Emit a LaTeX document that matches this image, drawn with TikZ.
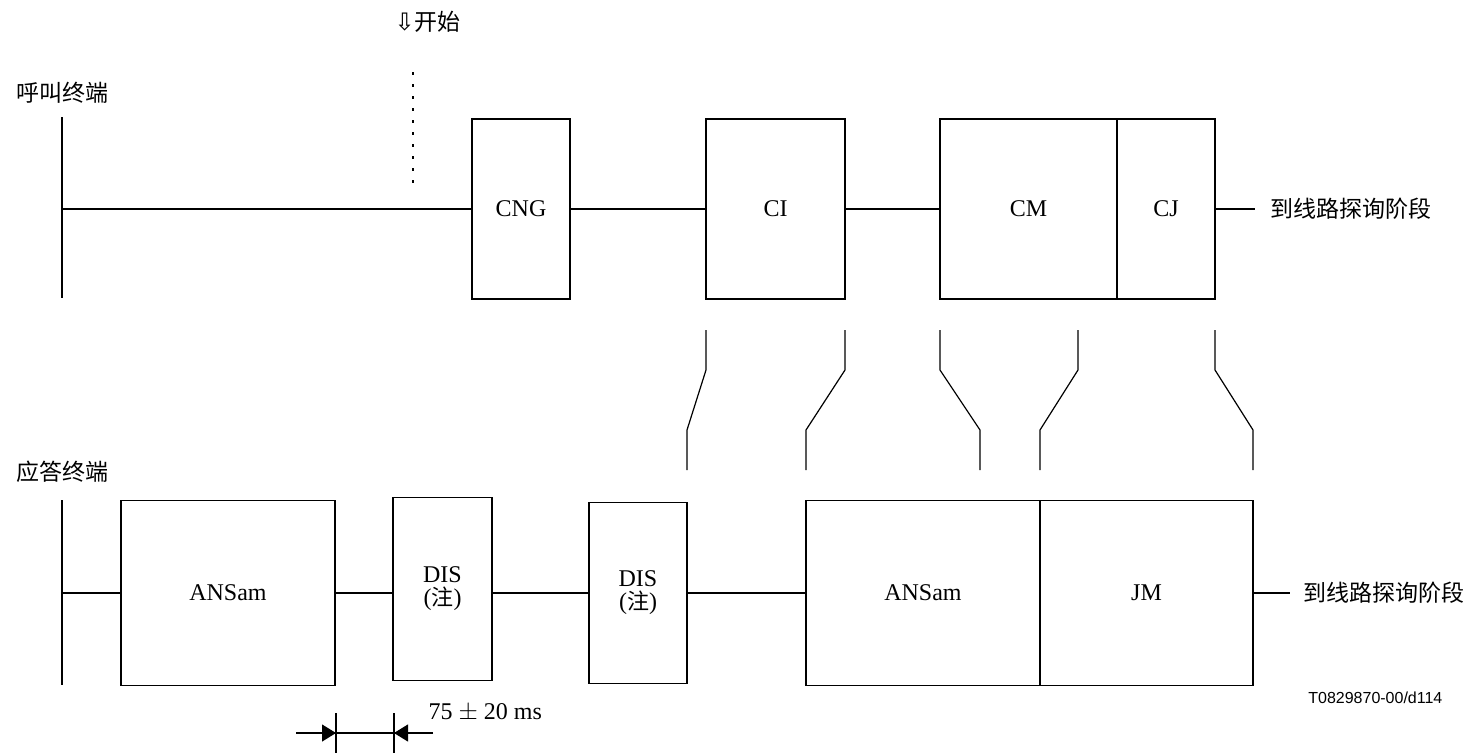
\documentclass[tikz,border=0pt]{standalone}
\usepackage{fontspec}
\setmainfont{Liberation Serif}
\newfontfamily\cjk{Noto Sans CJK SC}
\newfontfamily\symb{DejaVu Sans}
\newfontfamily\figfont{Liberation Sans}
\usetikzlibrary{arrows.meta}

\begin{document}
\begin{tikzpicture}[
  x=1pt, y=-1pt, line width=1.2pt,
  every node/.style={inner sep=0pt, font=\fontsize{24}{28}\selectfont},
  sig/.style 2 args={draw, rectangle, minimum width=#1, minimum height=#2},
  zh/.style={font=\fontsize{23}{26}\selectfont\cjk},
  dimarrow/.style={-{Triangle[length=14pt,width=17pt]}}
]
  \useasboundingbox (0,0) rectangle (1476,755);

  % calling terminal
  \node[zh, anchor=west] (caller) at (16,93) {呼叫终端};
  \coordinate (c1) at (62,117);
  \coordinate (c2) at (62,298);
  \coordinate (c3) at (62,209);
  \draw (c1) -- (c2);
  \node[anchor=west] (start) at (394,22) {{\symb\fontsize{24}{26}\selectfont ⇩}{\cjk\fontsize{23}{26}\selectfont 开始}};
  \coordinate (s1) at (413,72);
  \coordinate (s2) at (413,187);
  \draw[line width=2pt, dash pattern=on 3pt off 9pt] (s1) -- (s2);

  \node[sig={98pt}{180pt}] (cng) at (521,209) {CNG};
  \node[sig={139pt}{180pt}] (ci) at (775.5,209) {CI};
  \node[sig={177pt}{180pt}] (cm) at (1028.5,209) {CM};
  \node[sig={98pt}{180pt}] (cj) at (1166,209) {CJ};
  \node[zh, anchor=west] (callnext) at (1270,209) {到线路探询阶段};
  \coordinate (callend) at (1255,209);

  \draw (c3) -- (cng.west);
  \draw (cng.east) -- (ci.west);
  \draw (ci.east) -- (cm.west);
  \draw (cj.east) -- (callend);

  % answering terminal
  \node[zh, anchor=west] (answer) at (16,472) {应答终端};
  \coordinate (a1) at (62,500);
  \coordinate (a2) at (62,685);
  \coordinate (a3) at (62,593);
  \draw (a1) -- (a2);

  \node[sig={214pt}{185pt}] (ans1) at (228,593) {ANSam};
  \node[sig={99pt}{183pt}, align=center] (dis1) at (442.5,589) {DIS\\[-5pt]({\cjk\fontsize{22}{24}\selectfont 注})};
  \node[sig={98pt}{181pt}, align=center] (dis2) at (638,593) {DIS\\[-5pt]({\cjk\fontsize{22}{24}\selectfont 注})};
  \node[sig={234pt}{185pt}] (ans2) at (923,593) {ANSam};
  \node[sig={213pt}{185pt}] (jm) at (1146.5,593) {JM};
  \node[zh, anchor=west] (answernext) at (1303,593) {到线路探询阶段};
  \coordinate (answerend) at (1290,593);

  \draw (a3) -- (ans1.west);
  \draw (ans1.east) -- (dis1.west |- ans1.east);
  \draw (dis1.east |- ans1.east) -- (dis2.west |- ans1.east);
  \draw (dis2.east |- ans1.east) -- (ans2.west);
  \draw (jm.east) -- (answerend);

  % cross links
  \draw (706,330) -- (706,370) -- (687,430) -- (687,470);
  \draw (845,330) -- (845,370) -- (806,430) -- (806,470);
  \draw (940,330) -- (940,370) -- (980,430) -- (980,470);
  \draw (1078,330) -- (1078,370) -- (1040,430) -- (1040,470);
  \draw (1215,330) -- (1215,370) -- (1253,430) -- (1253,470);

  % timing
  \coordinate (t1) at (336,713);
  \coordinate (t2) at (336,753);
  \coordinate (t3) at (394,713);
  \coordinate (t4) at (394,753);
  \coordinate (t5) at (296,733);
  \coordinate (t6) at (336,733);
  \coordinate (t7) at (394,733);
  \coordinate (t8) at (433,733);
  \draw (t1) -- (t2);
  \draw (t3) -- (t4);
  \draw[dimarrow] (t5) -- (t6);
  \draw (t6) -- (t7);
  \draw[dimarrow] (t8) -- (t7);
  \node[anchor=west] (gap) at (428,713) {75 $\pm$ 20 ms};

  \node[anchor=east, font=\fontsize{16}{18}\selectfont\figfont] (figid) at (1443,698) {T0829870-00/d114};
\end{tikzpicture}
\end{document}
